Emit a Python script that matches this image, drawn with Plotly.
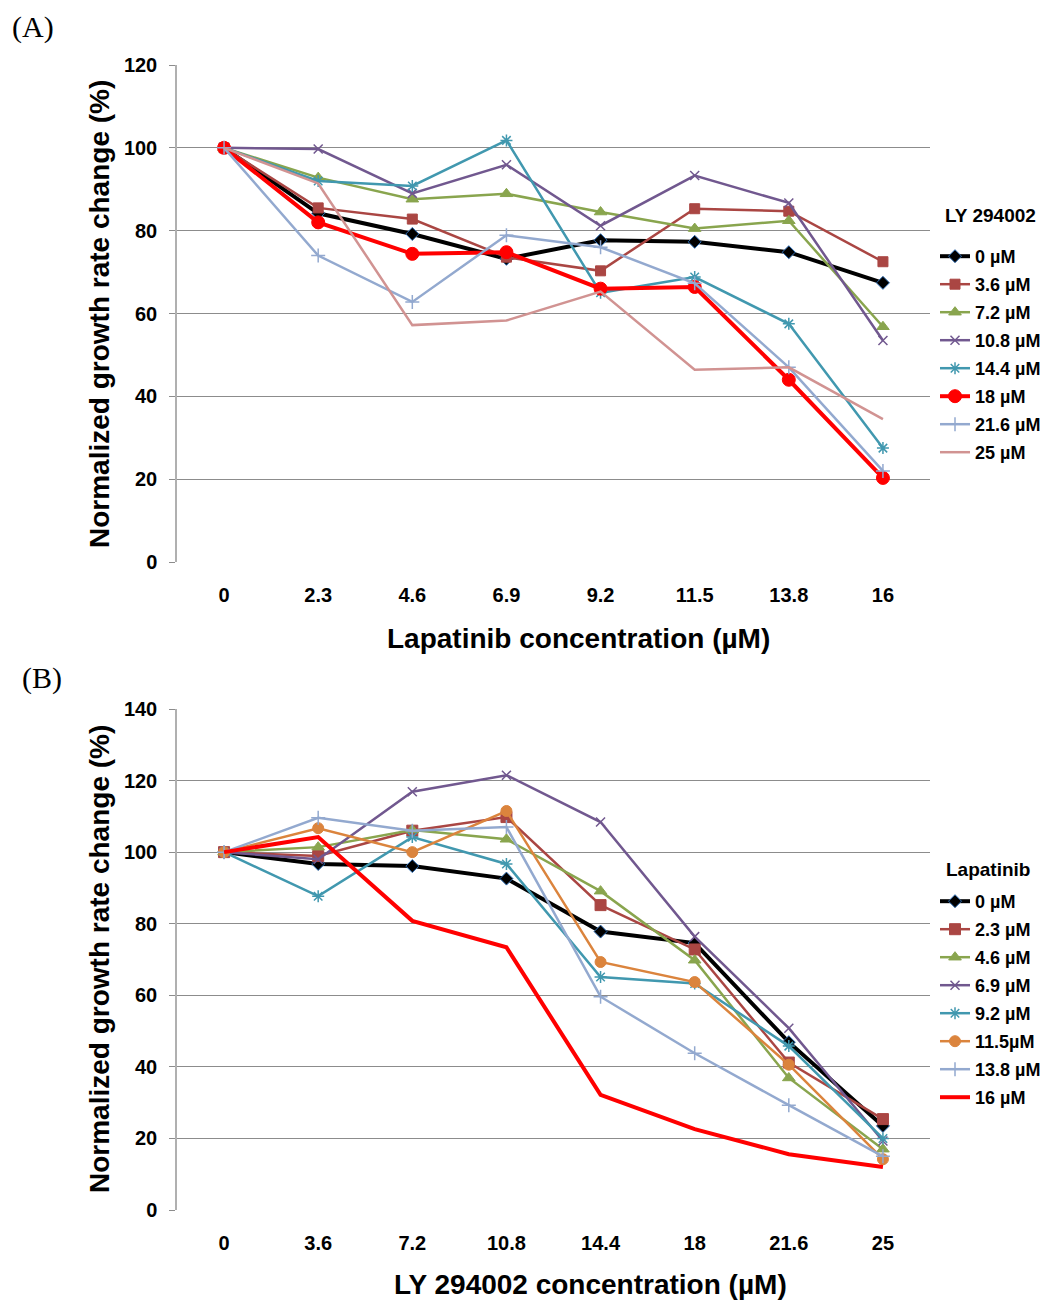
import plotly.graph_objects as go

# ---------------- Data ----------------
x_a = ["0", "2.3", "4.6", "6.9", "9.2", "11.5", "13.8", "16"]
names_a = ["0 µM", "3.6 µM", "7.2 µM", "10.8 µM", "14.4 µM", "18 µM", "21.6 µM", "25 µM"]
a_0 = [100, 84.2, 79.2, 73.2, 77.7, 77.3, 74.8, 67.4]
a_36 = [100, 85.5, 82.8, 73.6, 70.3, 85.3, 84.7, 72.5]
a_72 = [100, 92.8, 87.6, 88.9, 84.5, 80.5, 82.4, 56.8]
a_108 = [100, 99.7, 89.0, 95.9, 81.2, 93.3, 86.7, 53.5]
a_144 = [100, 92.0, 90.8, 101.8, 65.0, 68.8, 57.5, 27.5]
a_18 = [100, 82.0, 74.4, 74.8, 66.0, 66.4, 44.0, 20.3]
a_216 = [100, 74.0, 62.8, 78.9, 76.0, 67.3, 47.0, 22.0]
a_25 = [100, 91.4, 57.2, 58.3, 65.3, 46.4, 47.0, 34.5]
series_a = [a_0, a_36, a_72, a_108, a_144, a_18, a_216, a_25]

x_b = ["0", "3.6", "7.2", "10.8", "14.4", "18", "21.6", "25"]
names_b = ["0 µM", "2.3 µM", "4.6 µM", "6.9 µM", "9.2 µM", "11.5µM", "13.8 µM", "16 µM"]
b_0 = [100, 96.7, 96.1, 92.6, 77.8, 74.6, 46.9, 23.5]
b_23 = [100, 98.9, 106.0, 109.8, 85.2, 72.8, 41.2, 25.4]
b_46 = [100, 101.4, 106.2, 103.6, 89.1, 69.8, 36.9, 17.0]
b_69 = [100, 98.0, 116.9, 121.5, 108.4, 76.4, 50.8, 19.3]
b_92 = [100, 87.7, 104.2, 96.7, 65.1, 63.3, 45.8, 20.0]
b_115 = [100, 106.7, 100.0, 111.5, 69.3, 63.7, 40.6, 14.2]
b_138 = [100, 109.6, 106.0, 107.0, 59.6, 43.8, 29.3, 15.0]
b_16 = [100, 104.2, 80.8, 73.4, 32.2, 22.6, 15.6, 12.0]
series_b = [b_0, b_23, b_46, b_69, b_92, b_115, b_138, b_16]

legend_title_a = "LY 294002"
legend_title_b = "Lapatinib"
y_title = "Normalized growth rate change (%)"
x_title_a = "Lapatinib concentration (µM)"
x_title_b = "LY 294002 concentration (µM)"

# ---------------- Styles ----------------
colors_a = ["#000000", "#AA4643", "#89A54E", "#71588F", "#4198AF", "#FF0000", "#93A9CF", "#D19392"]
symbols_a = ["diamond", "square", "triangle-up", "x-thin-open", "asterisk-open", "circle", "cross-thin-open", None]
widths_a = [4, 2.5, 2.5, 2.5, 2.5, 4, 2.5, 2.5]
sizes_a = [10, 10, 11, 9, 10, 13, 10, 0]

colors_b = ["#000000", "#AA4643", "#89A54E", "#71588F", "#4198AF", "#DB843D", "#93A9CF", "#FF0000"]
symbols_b = ["diamond", "square", "triangle-up", "x-thin-open", "asterisk-open", "circle", "cross-thin-open", None]
widths_b = [4, 2.5, 2.5, 2.5, 2.5, 2.5, 2.5, 4]
sizes_b = [10, 11, 11, 9, 10, 11, 10, 0]

fig = go.Figure()

def add_series(xs, ys, name, color, symbol, width, size, xaxis, yaxis, legend):
    if symbol is None:
        mode = "lines"
        marker = None
    else:
        mode = "lines+markers"
        line_col = "#2E6DB4" if symbol == "diamond" else color
        mw = 1 if symbol in ("diamond", "square", "triangle-up", "circle") else 1.5
        marker = dict(symbol=symbol, size=size, color=color,
                      line=dict(color=line_col, width=mw))
    fig.add_trace(go.Scatter(
        x=xs, y=ys, name="<b>" + name + "</b>", mode=mode,
        line=dict(color=color, width=width),
        marker=marker, xaxis=xaxis, yaxis=yaxis, legend=legend,
        legendgroup=legend + name,
    ))

for i in range(8):
    add_series(x_a, series_a[i], names_a[i], colors_a[i], symbols_a[i], widths_a[i], sizes_a[i], "x", "y", "legend")
for i in range(8):
    add_series(x_b, series_b[i], names_b[i], colors_b[i], symbols_b[i], widths_b[i], sizes_b[i], "x2", "y2", "legend2")

W, H = 1044, 1300
x0, x1 = 177 / W, 930 / W

tickfont = dict(family="Liberation Sans, Arial, sans-serif", size=20, color="#000000")
common_x = dict(type="category", range=[-0.5, 7.5], showgrid=False, zeroline=False,
                showline=False, ticks="", tickfont=tickfont, ticklabelstandoff=19,
                domain=[x0, x1], fixedrange=True, automargin=False,
                tickprefix="<b>", ticksuffix="</b>")
common_y = dict(showgrid=True, gridcolor="#8C8C8C", gridwidth=1, zeroline=False,
                showline=True, linecolor="#B0B0B0", linewidth=1.5,
                ticks="outside", ticklen=6, tickcolor="#8C8C8C",
                tickfont=tickfont, ticklabelstandoff=8, fixedrange=True, automargin=False,
                tickprefix="<b>", ticksuffix="</b>")

legend_font = dict(family="Liberation Sans, Arial, sans-serif", size=18, color="#000000")

fig.update_layout(
    width=W, height=H, autosize=False,
    margin=dict(l=0, r=0, t=0, b=0, pad=0, autoexpand=False),
    paper_bgcolor="white", plot_bgcolor="white",
    font=dict(family="Liberation Sans, Arial, sans-serif", color="#000000"),
    xaxis=dict(**common_x, anchor="y"),
    yaxis=dict(**common_y, range=[0, 120], dtick=20, domain=[1 - 562 / H, 1 - 65 / H], anchor="x"),
    xaxis2=dict(**common_x, anchor="y2"),
    yaxis2=dict(**common_y, range=[0, 140], dtick=20, domain=[1 - 1210 / H, 1 - 709 / H], anchor="x2"),
    legend=dict(x=935 / W, y=1 - 238 / H, xanchor="left", yanchor="top",
                font=legend_font, tracegroupgap=1.6, itemwidth=30,
                bgcolor="rgba(0,0,0,0)"),
    legend2=dict(x=935 / W, y=1 - 883 / H, xanchor="left", yanchor="top",
                 font=legend_font, tracegroupgap=1.6, itemwidth=30,
                 bgcolor="rgba(0,0,0,0)"),
    showlegend=True,
)

title_font = dict(family="Liberation Sans, Arial, sans-serif", size=28, color="#000000")
ltitle_font = dict(family="Liberation Sans, Arial, sans-serif", size=19, color="#000000")
serif = dict(family="Liberation Serif, Times New Roman, serif", size=30, color="#000000")
ann = [
    dict(text="<b>" + y_title + "</b>", x=100 / W, y=1 - 314 / H, textangle=-90, font=title_font),
    dict(text="<b>" + x_title_a + "</b>", x=578 / W, y=1 - 638 / H, font=title_font),
    dict(text="<b>" + y_title + "</b>", x=100 / W, y=1 - 959 / H, textangle=-90, font=title_font),
    dict(text="<b>" + x_title_b + "</b>", x=590 / W, y=1 - 1284 / H, font=title_font),
    dict(text="(A)", x=33 / W, y=1 - 27 / H, font=serif),
    dict(text="(B)", x=42 / W, y=1 - 678 / H, font=serif),
    dict(text="<b>" + legend_title_a + "</b>", x=990 / W, y=1 - 216 / H, font=ltitle_font),
    dict(text="<b>" + legend_title_b + "</b>", x=988 / W, y=1 - 870 / H, font=ltitle_font),
]
for a in ann:
    a.update(xref="paper", yref="paper", showarrow=False, xanchor="center", yanchor="middle")
    fig.add_annotation(**a)

fig.write_html("out.html")
